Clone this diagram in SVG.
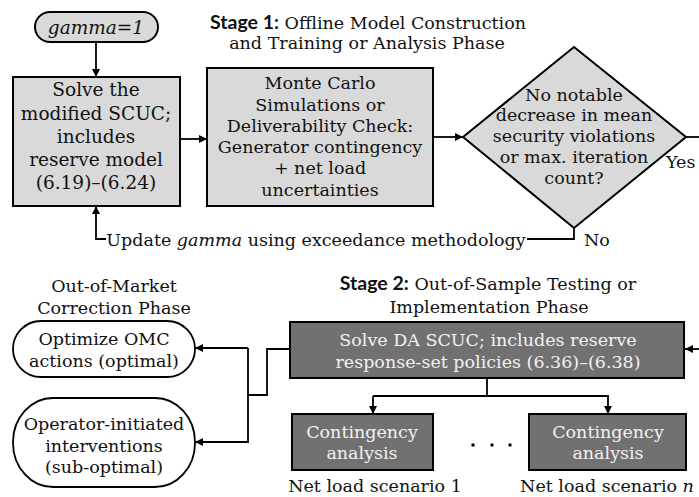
<svg xmlns="http://www.w3.org/2000/svg" width="699" height="497" viewBox="0 0 699 497">
<defs>
<marker id="ah" viewBox="0 0 10 10" refX="10" refY="5" markerWidth="8" markerHeight="8" markerUnits="userSpaceOnUse" orient="auto">
<path d="M0,0 L10,5 L0,10 z" fill="#000"/>
</marker>
<style>
text{font-family:"DejaVu Serif",serif;font-size:17.5px;fill:#111;text-anchor:middle}
.b{font-family:Lato,"Liberation Sans",sans-serif;font-weight:bold;font-size:19.5px}
.light{fill:#d9d9d9;stroke:#000;stroke-width:2}
.dark{fill:#717171;stroke:#000;stroke-width:2}
.term{fill:#fff;stroke:#000;stroke-width:1.8}
.w{fill:#f2f2f2}
.c{fill:none;stroke:#000;stroke-width:1.8}
.a{marker-end:url(#ah)}
.it{font-style:italic}
</style>
</defs>
<rect width="699" height="497" fill="#fff"/>

<g id="title1">
<text x="368" y="29"><tspan class="b">Stage 1:</tspan> Offline Model Construction</text>
<text x="367" y="49">and Training or Analysis Phase</text>
</g>

<g id="title2">
<text x="488" y="290"><tspan class="b">Stage 2:</tspan> Out-of-Sample Testing or</text>
<text x="489" y="313">Implementation Phase</text>
</g>

<g id="title3">
<text x="114" y="292">Out-of-Market</text>
<text x="114" y="314">Correction Phase</text>
</g>

<g id="start">
<rect x="35" y="12" width="123" height="30" rx="15" class="light"/>
<text x="96" y="34" class="it" style="font-size:18.5px">gamma=1</text>
</g>

<g id="solve1">
<rect x="13" y="77" width="167" height="129" class="light"/>
<text x="96" y="96" style="font-size:18.5px">Solve the</text>
<text x="96" y="120" style="font-size:18.5px">modified SCUC;</text>
<text x="96" y="143" style="font-size:18.5px">includes</text>
<text x="96" y="166" style="font-size:18.5px">reserve model</text>
<text x="96" y="189" style="font-size:18.5px">(6.19)–(6.24)</text>
</g>

<g id="montecarlo">
<rect x="207" y="68" width="226" height="138" class="light"/>
<text x="320" y="89">Monte Carlo</text>
<text x="320" y="111">Simulations or</text>
<text x="320" y="132">Deliverability Check:</text>
<text x="320" y="153">Generator contingency</text>
<text x="320" y="174">+ net load</text>
<text x="320" y="196">uncertainties</text>
</g>

<g id="decision">
<polygon points="574,47 686,137 574,228 463,137" class="light"/>
<text x="574" y="101">No notable</text>
<text x="574" y="121">decrease in mean</text>
<text x="574" y="142">security violations</text>
<text x="574" y="163">or max. iteration</text>
<text x="574" y="184">count?</text>
</g>

<g id="solveDA">
<rect x="290" y="322" width="394" height="56" class="dark"/>
<text x="488" y="346" class="w">Solve DA SCUC; includes reserve</text>
<text x="488" y="368" class="w">response-set policies (6.36)–(6.38)</text>
</g>

<g id="ca1">
<rect x="292" y="414" width="141" height="56" class="dark"/>
<text x="362" y="438" class="w">Contingency</text>
<text x="362" y="459" class="w">analysis</text>
</g>

<g id="ca2">
<rect x="529" y="414" width="157" height="56" class="dark"/>
<text x="608" y="438" class="w">Contingency</text>
<text x="608" y="459" class="w">analysis</text>
</g>

<g id="omc">
<rect x="13" y="321" width="182" height="56" rx="28" class="term"/>
<text x="104" y="345">Optimize OMC</text>
<text x="104" y="367">actions (optimal)</text>
</g>

<g id="operator">
<rect x="13" y="398" width="182" height="89" rx="40" ry="44" class="term"/>
<text x="104" y="430">Operator-initiated</text>
<text x="104" y="452">interventions</text>
<text x="104" y="473">(sub-optimal)</text>
</g>

<g id="labels">
<text x="375" y="492">Net load scenario 1</text>
<text x="607" y="492">Net load scenario <tspan class="it">n</tspan></text>
<text x="666" y="168" style="text-anchor:start">Yes</text>
<text x="584" y="246" style="text-anchor:start">No</text>
<text x="316" y="246">Update <tspan class="it">gamma</tspan> using exceedance methodology</text>
<rect x="471.5" y="443.5" width="3" height="3" fill="#000"/>
<rect x="490.5" y="443.5" width="3" height="3" fill="#000"/>
<rect x="508.5" y="443.5" width="3" height="3" fill="#000"/>
</g>

<g id="connectors">
<path class="c a" d="M96,42 V77"/>
<path class="c a" d="M180,139 H207"/>
<path class="c a" d="M433,137 H463"/>
<path class="c" d="M686,137 H699"/>
<path class="c" d="M574,228 V239 H527"/>
<path class="c a" d="M106,239 H96 V206"/>
<path class="c a" d="M699,349 H685"/>
<path class="c" d="M290,349 H267 V395 H248"/>
<path class="c a" d="M248,348 H195"/>
<path class="c a" d="M248,348 V442 H195"/>
<path class="c" d="M487,378 V396"/>
<path class="c a" d="M373,396 H608 V414"/>
<path class="c a" d="M373,396 V414"/>
</g>
</svg>
